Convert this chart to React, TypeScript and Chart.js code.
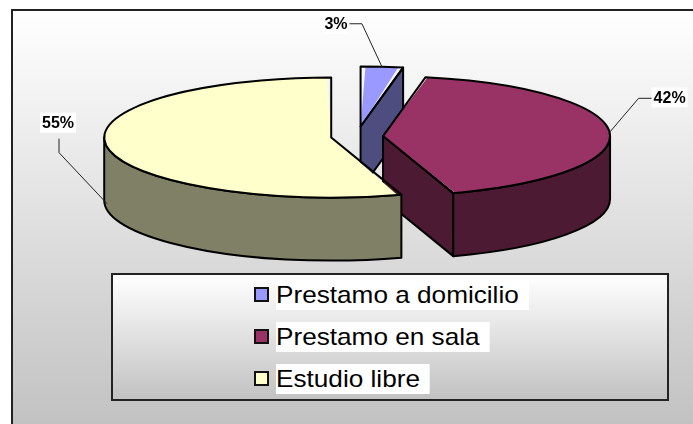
import React, { useEffect, useRef } from "react";
import { Chart, registerables } from "chart.js";

Chart.register(...registerables);

// ---- data ----
const categories = ["Prestamo a domicilio", "Prestamo en sala", "Estudio libre"];
const values = [3, 42, 55];

// ---- styles ----
const topColors = ["#9999FF", "#993366", "#FFFFCC"];
const sideColors = ["#4D4D80", "#4D1A33", "#808066"];
const explodeOffsets = [67, 46, 46];
const labelAnchorDepth = [0, 0, 0.9];
const labelTextOffsets = [[-46, -43], [60, -35], [-49, -81]];
const leaderStarts = [[-34, -43], [43, -34], [-48, -65]];
const leaderElbows = [[-20, -43], [29, -34], [-48, -51]];

const PIE_CX = 357;
const PIE_CY = 136.5;
const RX = 227;
const RY = 60;
const DEPTH = 63;
const BASE_R = 100;

type Geom = { cx: number; cy: number; s: number; e: number; h: number };

function geometry(chart: any): { list: Geom[]; sx: number; sy: number; px: number; py: number } {
  const meta = chart.getDatasetMeta(0);
  const R = meta.controller.outerRadius || BASE_R;
  const sx = RX / R;
  const sy = RY / R;
  let px = 0, py = 0;
  const list = meta.data.map((el: any) => {
    px = el.x; py = el.y;
    const off = (el.options.offset || 0) / 4;
    const h = (el.startAngle + el.endAngle) / 2;
    return {
      cx: PIE_CX + Math.cos(h) * off * sx,
      cy: PIE_CY + Math.sin(h) * off * sy,
      s: el.startAngle,
      e: el.endAngle,
      h,
    };
  });
  return { list, sx, sy, px, py };
}

const pie3d = {
  id: "pie3d",
  beforeDraw(chart: any) {
    const ctx = chart.ctx;
    ctx.save();
    ctx.fillStyle = "#ffffff";
    ctx.fillRect(0, 0, chart.width, chart.height);
    const g = ctx.createLinearGradient(0, 10, 0, 424);
    g.addColorStop(0, "#ffffff");
    g.addColorStop(1, "#c2c2c2");
    ctx.fillStyle = g;
    ctx.fillRect(12, 10, chart.width, chart.height);
    ctx.strokeStyle = "#222";
    ctx.lineWidth = 2;
    ctx.beginPath();
    ctx.moveTo(12, chart.height + 5);
    ctx.lineTo(12, 10);
    ctx.lineTo(chart.width + 5, 10);
    ctx.stroke();
    ctx.restore();
  },
  afterUpdate(chart: any) {
    const meta = chart.getDatasetMeta(0);
    const R = meta.controller.outerRadius;
    meta.data.forEach((el: any) => {
      const off = (el.options.offset || 0) / 4;
      const circ = el.endAngle - el.startAngle;
      const fix = 1 - Math.sin(Math.min(Math.PI, circ));
      el.outerRadius = R - off * fix;
    });
  },
  beforeDatasetsDraw(chart: any) {
    const ctx = chart.ctx;
    const { list, sx, sy, px, py } = geometry(chart);
    ctx.save();
    ctx.lineWidth = 2;
    ctx.lineJoin = "round";
    ctx.strokeStyle = "#000";
    list.forEach((g, i) => {
      ctx.fillStyle = sideColors[i];
      const rim = (a: number) => [g.cx + RX * Math.cos(a), g.cy + RY * Math.sin(a)];
      const face = (a: number) => {
        const [x, y] = rim(a);
        ctx.beginPath();
        ctx.moveTo(g.cx, g.cy);
        ctx.lineTo(x, y);
        ctx.lineTo(x, y + DEPTH);
        ctx.lineTo(g.cx, g.cy + DEPTH);
        ctx.closePath();
        ctx.fill();
        ctx.stroke();
      };
      if (Math.cos(g.s) < -1e-6) face(g.s);
      if (Math.cos(g.e) > 1e-6) face(g.e);
      for (let k = -1; k <= 1; k++) {
        const lo = Math.max(g.s, 2 * Math.PI * k);
        const hi = Math.min(g.e, 2 * Math.PI * k + Math.PI);
        if (hi - lo > 1e-6) {
          const [hx, hy] = rim(hi);
          ctx.beginPath();
          ctx.ellipse(g.cx, g.cy, RX, RY, 0, lo, hi);
          ctx.lineTo(hx, hy + DEPTH);
          ctx.ellipse(g.cx, g.cy + DEPTH, RX, RY, 0, hi, lo, true);
          ctx.closePath();
          ctx.fill();
          ctx.stroke();
        }
      }
    });
    ctx.restore();
    // transform for the top faces drawn by Chart.js
    ctx.save();
    ctx.translate(PIE_CX, PIE_CY);
    ctx.scale(sx, sy);
    ctx.translate(-px, -py);
  },
  afterDatasetsDraw(chart: any) {
    const ctx = chart.ctx;
    ctx.restore();
    const { list } = geometry(chart);
    const data = chart.data.datasets[0].data as number[];
    const total = data.reduce((a, b) => a + b, 0);
    ctx.save();
    ctx.lineWidth = 2;
    ctx.lineJoin = "round";
    ctx.strokeStyle = "#000";
    list.forEach((g) => {
      ctx.beginPath();
      ctx.moveTo(g.cx, g.cy);
      ctx.ellipse(g.cx, g.cy, RX, RY, 0, g.s, g.e);
      ctx.closePath();
      ctx.stroke();
    });
    // labels
    ctx.font = "bold 16px 'Liberation Sans', Arial, sans-serif";
    ctx.textAlign = "center";
    ctx.textBaseline = "middle";
    list.forEach((g, i) => {
      const ax = g.cx + RX * Math.cos(g.h);
      const ay = g.cy + RY * Math.sin(g.h) + DEPTH * labelAnchorDepth[i];
      ctx.lineWidth = 1;
      ctx.strokeStyle = "#222";
      ctx.beginPath();
      ctx.moveTo(ax + leaderStarts[i][0], ay + leaderStarts[i][1]);
      ctx.lineTo(ax + leaderElbows[i][0], ay + leaderElbows[i][1]);
      ctx.lineTo(ax, ay);
      ctx.stroke();
      const text = Math.round((data[i] / total) * 100) + "%";
      const tx = ax + labelTextOffsets[i][0];
      const ty = ay + labelTextOffsets[i][1];
      const tw = ctx.measureText(text).width;
      ctx.fillStyle = "#ffffff";
      ctx.fillRect(tx - tw / 2 - 2, ty - 10, tw + 4, 20);
      ctx.fillStyle = "#000";
      ctx.fillText(text, tx, ty + 1);
    });
    ctx.restore();
  },
};

export default function App() {
  const ref = useRef<HTMLCanvasElement>(null);
  useEffect(() => {
    const chart = new Chart(ref.current!, {
      type: "pie",
      data: {
        labels: categories,
        datasets: [
          {
            data: values,
            backgroundColor: topColors,
            borderWidth: 0,
            offset: explodeOffsets,
            hoverOffset: 0,
            radius: BASE_R,
            clip: false,
          } as any,
        ],
      },
      options: {
        responsive: false,
        animation: false,
        devicePixelRatio: 1,
        events: [],
        layout: { padding: 0 },
        plugins: { legend: { display: false }, tooltip: { enabled: false } },
      } as any,
      plugins: [pie3d],
    });
    return () => chart.destroy();
  }, []);

  return (
    <div style={{ position: "fixed", left: 0, top: 0, width: 693, height: 424, overflow: "hidden", background: "#fff" }}>
      <canvas ref={ref} width={693} height={424} style={{ position: "absolute", left: 0, top: 0, width: 693, height: 424 }} />
      <div
        style={{
          position: "absolute",
          left: 111,
          top: 273,
          width: 558,
          height: 128,
          boxSizing: "border-box",
          border: "2px solid #222",
          background: "linear-gradient(#ffffff, #c2c2c2)",
        }}
      />
      {categories.map((c, i) => (
        <React.Fragment key={c}>
          <div
            style={{
              position: "absolute",
              left: 254,
              top: 287 + 42 * i,
              width: 15,
              height: 15,
              boxSizing: "border-box",
              border: "2px solid #111",
              background: topColors[i],
            }}
          />
          <div
            style={{
              position: "absolute",
              left: 276,
              top: 280 + 42 * i,
              height: 30,
              lineHeight: "30px",
              fontSize: 24,
              fontFamily: "'Liberation Sans', Arial, sans-serif",
              color: "#000",
              background: "#fff",
              paddingRight: 9,
              whiteSpace: "nowrap",
              transform: "scaleX(1.09)",
              transformOrigin: "left center",
            }}
          >
            {c}
          </div>
        </React.Fragment>
      ))}
    </div>
  );
}
